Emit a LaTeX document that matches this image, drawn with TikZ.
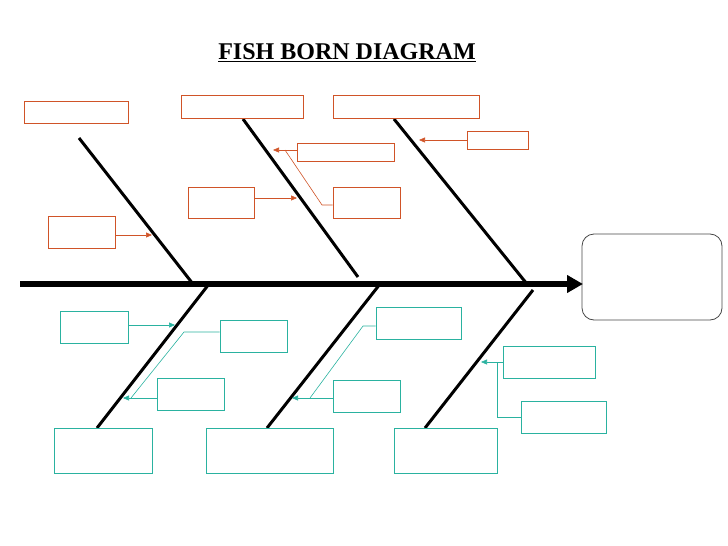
\documentclass[tikz,border=0pt]{standalone}
\usepackage{fontspec}
\setmainfont{Liberation Serif}
\usetikzlibrary{arrows.meta,fit}
\definecolor{orng}{RGB}{208,84,40}
\definecolor{teal2}{RGB}{42,178,160}
\definecolor{headc}{RGB}{70,70,70}
\tikzset{
  obox/.style={draw=orng,line width=0.9pt,inner sep=0pt},
  tbox/.style={draw=teal2,line width=0.9pt,inner sep=0pt},
  hbox/.style={draw=headc,line width=0.8pt,rounded corners=12pt,inner sep=0pt},
  oarr/.style={draw=orng,line width=0.6pt,-{Triangle[length=6pt,width=5pt]}},
  tarr/.style={draw=teal2,line width=0.6pt,-{Triangle[length=6pt,width=5pt]}},
  oln/.style={draw=orng,line width=0.6pt},
  tln/.style={draw=teal2,line width=0.6pt},
  bone/.style={line width=3pt,black},
  spine/.style={line width=6pt,black,-{Triangle[length=16pt,width=17pt]}}
}
\begin{document}
\begin{tikzpicture}[x=1pt,y=-1pt]
\useasboundingbox (0,0) rectangle (728,546);
\node[anchor=base,font=\fontsize{24}{28}\selectfont\bfseries] (title) at (347,59.5) {\underline{FISH BORN DIAGRAM}};
% head
\node[hbox,fit={(582,234)(722,320)}] (head) {};
% spine
\coordinate (s0) at (20,284);
\coordinate (s1) at (583,284);
\draw[spine] (s0) -- (s1);
% upper bones
\coordinate (u1a) at (79,138); \coordinate (u1b) at (193,284);
\coordinate (u2a) at (243,119); \coordinate (u2b) at (358,277);
\coordinate (u3a) at (394,119); \coordinate (u3b) at (527,284);
\draw[bone] (u1a) -- (u1b);
\draw[bone] (u2a) -- (u2b);
\draw[bone] (u3a) -- (u3b);
% lower bones
\coordinate (l1a) at (209,284); \coordinate (l1b) at (97,428);
\coordinate (l2a) at (380,284); \coordinate (l2b) at (267,428);
\coordinate (l3a) at (533,290); \coordinate (l3b) at (425,428);
\draw[bone] (l1a) -- (l1b);
\draw[bone] (l2a) -- (l2b);
\draw[bone] (l3a) -- (l3b);
% orange boxes
\node[obox,fit={(24,101)(128,123)}] (A) {};
\node[obox,fit={(181,95)(303,118)}] (B) {};
\node[obox,fit={(333,95)(479,118)}] (C) {};
\node[obox,fit={(467,131)(528,149)}] (D) {};
\node[obox,fit={(297,143)(394,161)}] (E) {};
\node[obox,fit={(333,187)(400,218)}] (F) {};
\node[obox,fit={(188,187)(254,218)}] (G) {};
\node[obox,fit={(48,216)(115,248)}] (H) {};
% teal boxes
\node[tbox,fit={(54,428)(152,473)}] (T1) {};
\node[tbox,fit={(206,428)(333,473)}] (T2) {};
\node[tbox,fit={(394,428)(497,473)}] (T3) {};
\node[tbox,fit={(60,311)(128,343)}] (L1) {};
\node[tbox,fit={(220,320)(287,352)}] (L2) {};
\node[tbox,fit={(157,378)(224,410)}] (L3) {};
\node[tbox,fit={(376,307)(461,339)}] (L4) {};
\node[tbox,fit={(333,380)(400,412)}] (L5) {};
\node[tbox,fit={(503,346)(595,378)}] (L6) {};
\node[tbox,fit={(521,401)(606,433)}] (L7) {};
% orange connectors
\coordinate (hT) at (152,235);
\draw[oarr] (H.east |- hT) -- (hT);
\coordinate (gT) at (297,198);
\draw[oarr] (G.east |- gT) -- (gT);
\coordinate (eT) at (273,150);
\draw[oarr] (E.west |- eT) -- (eT);
\coordinate (fJ) at (285,150);
\coordinate (fK) at (322,205);
\draw[oln] (F.west |- fK) -- (fK) -- (fJ);
\coordinate (dT) at (419,140);
\draw[oarr] (D.west |- dT) -- (dT);
% teal connectors
\coordinate (l1T) at (175,325);
\draw[tarr] (L1.east |- l1T) -- (l1T);
\coordinate (l3T) at (123,398);
\draw[tarr] (L3.west |- l3T) -- (l3T);
\coordinate (l2K) at (184,332);
\coordinate (l2J) at (131,398);
\draw[tln] (L2.west |- l2K) -- (l2K) -- (l2J);
\coordinate (l5T) at (292,398);
\draw[tarr] (L5.west |- l5T) -- (l5T);
\coordinate (l4K) at (363,326);
\coordinate (l4J) at (310,398);
\draw[tln] (L4.west |- l4K) -- (l4K) -- (l4J);
\coordinate (l6T) at (481,362);
\draw[tarr] (L6.west |- l6T) -- (l6T);
\coordinate (l7K) at (497,417);
\coordinate (l7J) at (497,362);
\draw[tln] (L7.west |- l7K) -- (l7K) -- (l7J);
\end{tikzpicture}
\end{document}
